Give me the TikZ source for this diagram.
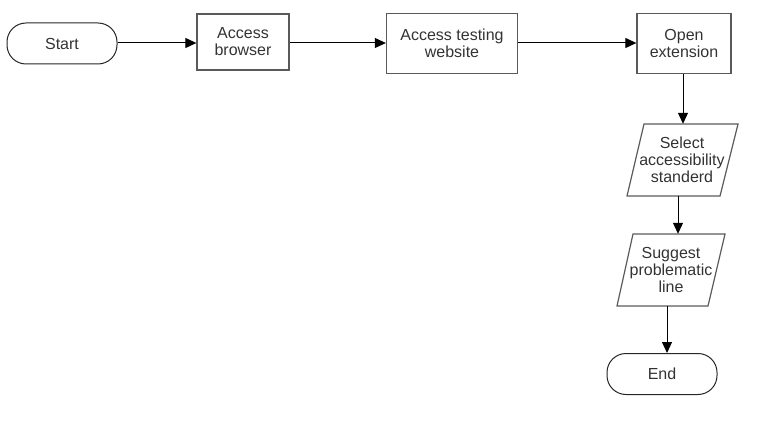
\documentclass[tikz,border=0pt]{standalone}
\usepackage{fontspec}
\setmainfont{Liberation Sans}
\usetikzlibrary{arrows.meta,calc}
\definecolor{txt}{HTML}{333333}
\definecolor{bord}{HTML}{5a5a5a}
\begin{document}
\begin{tikzpicture}[x=1pt,y=-1pt,
  every node/.style={font=\fontsize{16}{17}\selectfont,text=txt,align=center,inner sep=0pt},
  term/.style={draw=black!85,line width=1pt,rounded corners=19pt,minimum width=110pt,minimum height=41pt},
  proc/.style={draw=bord,line width=1.3pt,minimum height=58pt},
  io/.style={minimum width=94pt,minimum height=72pt},
  para/.style={draw=bord,line width=1.2pt},
  arr/.style={draw=black,line width=1pt,-{Triangle[length=11pt,width=10pt]}}]
\useasboundingbox (0,0) rectangle (757,422);
\node[term] (start) at (62,43.5) {Start};
\node[proc,minimum width=92pt,minimum height=56pt] (ab) at (243,42) {Access\\browser};
\node[proc,minimum width=131pt,minimum height=60pt] (atw) at (452,43.5) {Access testing\\website};
\node[proc,minimum width=94pt,minimum height=60pt] (oe) at (684,43.5) {Open\\extension};
\node[io] (sel) at (682,160) {Select\\accessibility\\standerd};
\node[io] (sug) at (671,270) {Suggest\\problematic\\line};
\node[term] (end) at (662,374) {End};
\draw[para] ($(sel.center)+(-55,36)$) -- ($(sel.center)+(38,36)$) -- ($(sel.center)+(56,-36)$) -- ($(sel.center)+(-38,-36)$) -- cycle;
\draw[para] ($(sug.center)+(-54,36)$) -- ($(sug.center)+(37,36)$) -- ($(sug.center)+(54,-36)$) -- ($(sug.center)+(-38,-36)$) -- cycle;
\coordinate (c1) at (678,0);
\coordinate (c2) at (667,0);
\draw[arr] (start.east |- 0,43) -- (ab.west |- 0,43);
\draw[arr] (ab.east |- 0,43) -- (atw.west |- 0,43);
\draw[arr] (atw.east |- 0,43) -- (oe.west |- 0,43);
\draw[arr] (oe.south -| 683,0) -- (sel.north -| 683,0);
\draw[arr] (sel.south -| c1) -- (sug.north -| c1);
\draw[arr] (sug.south -| c2) -- (end.north -| c2);
\end{tikzpicture}
\end{document}
